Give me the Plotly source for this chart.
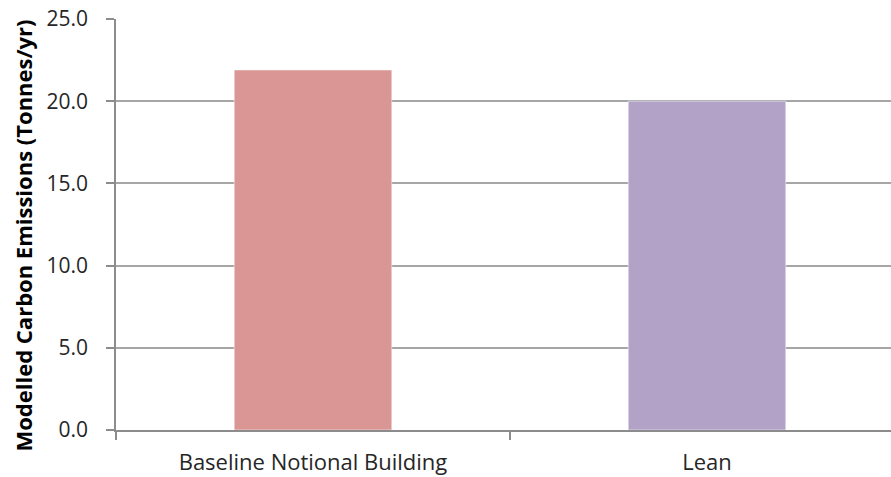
import plotly.graph_objects as go

# Modelled annual carbon emissions per scenario
categories = ["Baseline Notional Building", "Lean"]
emissions = [21.9, 20.0]
bar_colors = ["#D99694", "#B2A2C7"]
y_ticks = [0, 5, 10, 15, 20, 25]
y_tick_labels = ["0.0", "5.0", "10.0", "15.0", "20.0", "25.0"]
y_title = "Modelled Carbon Emissions (Tonnes/yr)"

FONT = "Open Sans"

fig = go.Figure(
    go.Bar(
        x=categories,
        y=emissions,
        marker=dict(color=bar_colors, line=dict(color="rgba(255,255,255,0.5)", width=1)),
        width=0.4,
    )
)

fig.update_layout(
    width=891,
    height=477,
    margin=dict(l=116, r=0, t=19, b=47),
    paper_bgcolor="white",
    plot_bgcolor="white",
    showlegend=False,
    font=dict(family=FONT, size=20, color="#262626"),
)

fig.update_xaxes(
    type="category",
    range=[-0.5, 1.467],
    showline=True,
    linecolor="#8c8c8c",
    linewidth=1.5,
    ticks="outside",
    tickson="boundaries",
    ticklen=8,
    tickcolor="#8c8c8c",
    tickwidth=1.5,
    showgrid=False,
    ticklabelstandoff=12,
    tickfont=dict(family=FONT, size=22, color="#262626"),
)

fig.update_yaxes(
    range=[0, 25],
    tickvals=y_ticks,
    ticktext=y_tick_labels,
    showline=True,
    linecolor="#8c8c8c",
    linewidth=1.5,
    ticks="outside",
    ticklen=8,
    tickcolor="#8c8c8c",
    tickwidth=1.5,
    showgrid=True,
    gridcolor="#a6a6a6",
    gridwidth=1.5,
    zeroline=False,
    ticklabelstandoff=14,
    tickfont=dict(family=FONT, size=21, color="#262626"),
)

# Rotated axis title placed beside the tick labels
fig.add_annotation(
    text="<b>" + y_title + "</b>",
    textangle=-90,
    xref="paper",
    yref="paper",
    x=0,
    y=0.5,
    xanchor="center",
    yanchor="middle",
    xshift=-94,
    yshift=-11,
    showarrow=False,
    font=dict(family=FONT, size=22, color="black"),
)

fig.write_html("out.html")
